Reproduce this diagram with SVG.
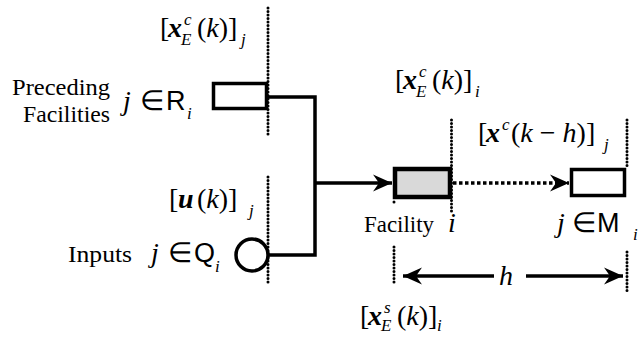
<svg xmlns="http://www.w3.org/2000/svg" width="643" height="337" viewBox="0 0 643 337">
<style>
  text { font-family: "Liberation Serif", "Times New Roman", serif; fill: #000; }
  .lbl { font-size: 23px; }
  .m { font-size: 28px; }
  .it { font-style: italic; }
  .bi { font-style: italic; font-weight: bold; }
  .sm { font-size: 17px; font-style: italic; }
  .sans { font-family: "Liberation Sans", Arial, sans-serif; font-size: 27px; }
  .box { fill: #fff; stroke: #000; stroke-width: 3.5; }
  .dot { fill: none; stroke: #000; stroke-width: 3; stroke-dasharray: 0 3.5; stroke-linecap: round; }
  .wire { fill: none; stroke: #000; stroke-width: 3.5; }
</style>
<defs>
  <marker id="ah" markerUnits="userSpaceOnUse" markerWidth="24" markerHeight="20" viewBox="-20 -10 24 20" refX="0" refY="0" orient="auto-start-reverse">
    <path d="M0,0 L-19,-8.5 L-13,0 L-19,8.5 Z" fill="#000"/>
  </marker>
</defs>

<!-- dotted guide lines -->
<g id="guides">
  <line class="dot" x1="268" y1="8" x2="268" y2="137"/>
  <line class="dot" x1="268" y1="177" x2="268" y2="285"/>
  <line class="dot" x1="451.5" y1="120" x2="451.5" y2="213"/>
  <line class="dot" x1="394" y1="202" x2="394" y2="204"/>
  <line class="dot" x1="394" y1="247" x2="394" y2="283"/>
  <line class="dot" x1="627" y1="120" x2="627" y2="168"/>
  <line class="dot" x1="627" y1="252" x2="627" y2="292"/>
</g>

<!-- connectors -->
<g id="connectors">
  <path class="wire" d="M268,97 H315 V255 H268"/>
  <path class="wire" d="M315,183 H392" marker-end="url(#ah)"/>
  <path fill="none" stroke="#000" stroke-width="3.5" stroke-dasharray="3.5 2.5" d="M453,183 H569" marker-end="url(#ah)"/>
  <path class="wire" d="M403,276 H494" marker-start="url(#ah)"/>
  <path class="wire" d="M526,276 H623" marker-end="url(#ah)"/>
</g>

<g id="preceding">
  <rect class="box" x="213.5" y="83.5" width="53" height="25"/>
  <text class="lbl" x="12" y="95" textLength="98" lengthAdjust="spacingAndGlyphs">Preceding</text>
  <text class="lbl" x="23" y="122" textLength="87" lengthAdjust="spacingAndGlyphs">Facilities</text>
  <text class="m it" x="123" y="110">j</text>
  <text class="m" x="140" y="110" font-size="25">∈</text>
  <text class="sans" x="166" y="110">R</text>
  <text class="sm" x="187" y="119">i</text>
</g>

<g id="label-xEc-j">
  <text class="m" y="37"><tspan x="160">[</tspan><tspan class="bi" x="168">x</tspan><tspan x="197">(</tspan><tspan class="it">k</tspan><tspan>)]</tspan></text>
  <text class="sm" x="184" y="25" font-size="16">c</text>
  <text class="sm" x="181" y="45" font-size="15">E</text>
  <text class="sm" x="241" y="45">j</text>
</g>

<g id="inputs">
  <circle cx="252" cy="255" r="16" fill="#fff" stroke="#000" stroke-width="3.5"/>
  <text class="lbl" x="68" y="262" textLength="64" lengthAdjust="spacingAndGlyphs">Inputs</text>
  <text class="m it" x="151" y="262">j</text>
  <text class="m" x="168" y="262" font-size="25">∈</text>
  <text class="sans" x="194" y="262">Q</text>
  <text class="sm" x="215" y="272">i</text>
</g>

<g id="label-u-j">
  <text class="m" y="208"><tspan x="169">[</tspan><tspan class="bi" x="178">u</tspan><tspan x="197">(</tspan><tspan class="it">k</tspan><tspan>)]</tspan></text>
  <text class="sm" x="249" y="216">j</text>
</g>

<g id="facility">
  <rect x="395" y="169" width="55" height="28" fill="#d9d9d9" stroke="#000" stroke-width="4.5"/>
  <text class="lbl" x="364" y="232" textLength="70" lengthAdjust="spacingAndGlyphs">Facility</text>
  <text class="m it" x="448" y="232">i</text>
</g>

<g id="label-xEc-i">
  <text class="m" y="89"><tspan x="395">[</tspan><tspan class="bi" x="403">x</tspan><tspan x="432">(</tspan><tspan class="it">k</tspan><tspan>)]</tspan></text>
  <text class="sm" x="419" y="77" font-size="16">c</text>
  <text class="sm" x="416" y="97" font-size="15">E</text>
  <text class="sm" x="475" y="97">i</text>
</g>

<g id="successor">
  <rect class="box" x="571.5" y="169.5" width="53" height="26"/>
  <text class="m it" x="557" y="232">j</text>
  <text class="m" x="572" y="232" font-size="25">∈</text>
  <text class="sans" x="597" y="232">M</text>
  <text class="sm" x="633" y="240">i</text>
</g>

<g id="label-xc-kh">
  <text class="m" y="142"><tspan x="478">[</tspan><tspan class="bi" x="486">x</tspan><tspan x="511">(</tspan><tspan class="it">k</tspan><tspan> − </tspan><tspan class="it">h</tspan><tspan>)]</tspan></text>
  <text class="sm" x="502" y="130" font-size="16">c</text>
  <text class="sm" x="604" y="150">j</text>
</g>

<g id="label-h">
  <text class="m it" x="499" y="285">h</text>
</g>

<g id="label-xEs-i">
  <text class="m" y="325"><tspan x="360">[</tspan><tspan class="bi" x="368">x</tspan><tspan x="397">(</tspan><tspan class="it">k</tspan><tspan>)]</tspan></text>
  <text class="sm" x="384" y="313" font-size="16">s</text>
  <text class="sm" x="381" y="331" font-size="14">E</text>
  <text class="sm" x="437" y="331">i</text>
</g>
</svg>
